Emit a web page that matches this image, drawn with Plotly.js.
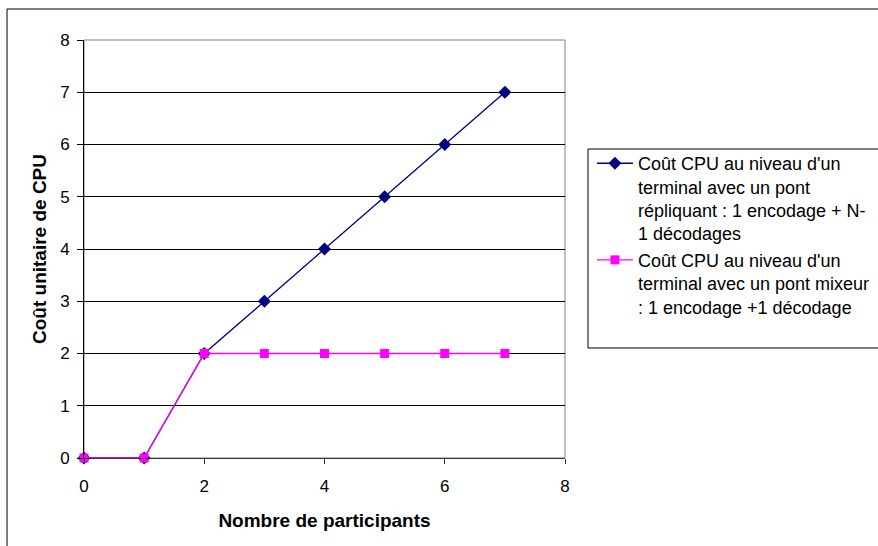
<!DOCTYPE html>
<html>
<head>
<meta charset="utf-8">
<script src="https://cdn.plot.ly/plotly-3.0.1.min.js"></script>
<style>
html,body{margin:0;padding:0;background:#fff;}
#chart{width:878px;height:546px;}
</style>
</head>
<body>
<div id="chart"></div>
<script>
const participants = [0, 1, 2, 3, 4, 5, 6, 7];
const coutRepliquant = [0, 0, 2, 3, 4, 5, 6, 7];
const coutMixeur = [0, 0, 2, 2, 2, 2, 2, 2];
const nomRepliquant = "Coût CPU au niveau d'un<br>terminal avec un pont<br>répliquant : 1 encodage + N-<br>1 décodages";
const nomMixeur = "Coût CPU au niveau d'un<br>terminal avec un pont mixeur<br>: 1 encodage +1 décodage";
const xTitle = "Nombre de participants";
const yTitle = "Coût unitaire de CPU";

const font = "Arial, 'Liberation Sans', sans-serif";

const traces = [
  {
    x: participants, y: coutRepliquant, name: nomRepliquant,
    type: 'scatter', mode: 'lines+markers', cliponaxis: false,
    line: {color: '#000080', width: 1.3},
    marker: {symbol: 'diamond', size: 10, color: '#000080'}
  },
  {
    x: participants, y: coutMixeur, name: nomMixeur,
    type: 'scatter', mode: 'lines+markers', cliponaxis: false,
    line: {color: '#FF00FF', width: 1.3},
    marker: {symbol: 'square', size: 9, color: '#FF00FF'}
  }
];

const layout = {
  width: 878, height: 546,
  margin: {l: 84, r: 313, t: 40, b: 88},
  paper_bgcolor: '#ffffff',
  plot_bgcolor: '#ffffff',
  font: {family: font, size: 17, color: '#000'},
  showlegend: true,
  legend: {
    xref: 'container', yref: 'container',
    x: 0.6742, y: 0.7343, xanchor: 'left', yanchor: 'top',
    borderwidth: 0, valign: 'top', itemwidth: 36,
    font: {family: font, size: 18, color: '#000'},
    bgcolor: 'rgba(0,0,0,0)'
  },
  xaxis: {
    range: [0, 8], dtick: 2, tick0: 0,
    showgrid: false, zeroline: false,
    showline: true, linecolor: '#333', linewidth: 1,
    ticks: 'outside', ticklen: 5, tickcolor: '#333',
    ticklabelstandoff: 8,
    tickfont: {family: font, size: 17},
    title: {text: '<b>' + xTitle + '</b>', font: {family: font, size: 19}, standoff: 18}
  },
  yaxis: {
    range: [0, 8], dtick: 1, tick0: 0,
    showgrid: true, gridcolor: '#000', gridwidth: 1,
    zeroline: false,
    showline: true, linecolor: '#000', linewidth: 1,
    ticks: 'outside', ticklen: 6, tickcolor: '#000',
    ticklabelstandoff: 4,
    tickfont: {family: font, size: 17},
    title: {text: '<b>' + yTitle + '</b>', font: {family: font, size: 19}, standoff: 8}
  },
  shapes: [
    {type: 'rect', xref: 'paper', yref: 'paper', x0: 0, x1: 1, y0: 0, y1: 1,
     line: {color: '#808080', width: 1}, layer: 'below'},
    {type: 'rect', xref: 'paper', yref: 'paper', x0: -0.160, x1: 2, y0: -1, y1: 1.0742,
     line: {color: '#000', width: 1}, layer: 'below'},
    {type: 'rect', xref: 'paper', yref: 'paper', x0: 1.0478, x1: 1.8, y0: 0.2632, y1: 0.7392,
     line: {color: '#000', width: 1}, layer: 'below'}
  ]
};

Plotly.newPlot('chart', traces, layout, {displayModeBar: false, staticPlot: true});
</script>
</body>
</html>
